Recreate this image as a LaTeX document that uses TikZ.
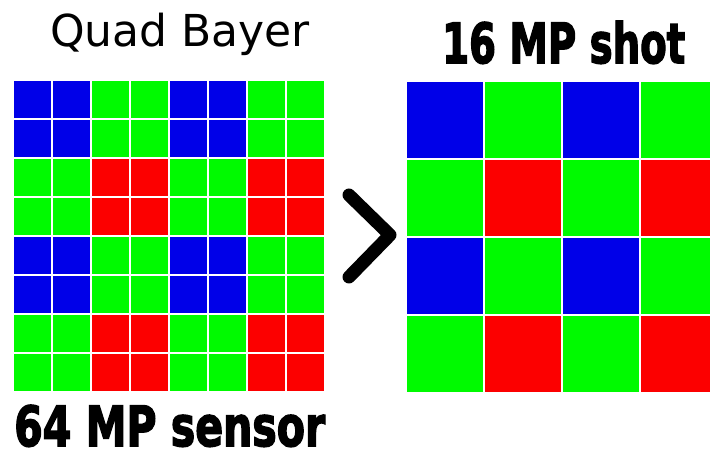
\documentclass[tikz,border=0pt]{standalone}
\usepackage{fontspec}
\setmainfont{DejaVu Sans}
\newfontfamily\thinsans{DejaVu Sans}
\newfontfamily\heavysans{DejaVu Sans Bold}[FakeBold=3]
\definecolor{cblue}{RGB}{0,0,232}
\definecolor{cgreen}{RGB}{0,250,0}
\definecolor{cred}{RGB}{252,0,0}
\begin{document}
\begin{tikzpicture}[x=1pt,y=-1pt,
  titlelight/.style={inner sep=0pt, font=\thinsans\fontsize{44}{44}\selectfont, anchor=base},
  titleheavy/.style={inner sep=0pt, anchor=base west},
  chevron/.style={line width=13pt, line cap=round, line join=round}]
\fill[white] (0,0) rectangle (710,454);
\useasboundingbox (0,0) rectangle (710,454);
% left 8x8 quad bayer grid
\foreach \r in {0,...,7}{
  \foreach \c in {0,...,7}{
    \pgfmathtruncatemacro{\br}{mod(floor(\r/2),2)}
    \pgfmathtruncatemacro{\bc}{mod(floor(\c/2),2)}
    \ifnum\br=0
      \ifnum\bc=0 \def\col{cblue}\else \def\col{cgreen}\fi
    \else
      \ifnum\bc=0 \def\col{cgreen}\else \def\col{cred}\fi
    \fi
    \fill[\col] ({14+39*\c},{81+39*\r}) rectangle ++(37,37);
  }
}
% right 4x4 bayer grid
\begin{scope}
\clip (0,0) rectangle (710,454);
\foreach \r in {0,...,3}{
  \foreach \c in {0,...,3}{
    \pgfmathtruncatemacro{\br}{mod(\r,2)}
    \pgfmathtruncatemacro{\bc}{mod(\c,2)}
    \ifnum\br=0
      \ifnum\bc=0 \def\col{cblue}\else \def\col{cgreen}\fi
    \else
      \ifnum\bc=0 \def\col{cgreen}\else \def\col{cred}\fi
    \fi
    \fill[\col] ({407+78*\c},{82+78*\r}) rectangle ++(76,76);
  }
}
\end{scope}
% titles
\node[titlelight] (quad) at (180,47) {Quad Bayer};
\node[titleheavy] (shot) at (442,63) {\resizebox{243pt}{42pt}{\heavysans 16 MP shot}};
\node[titleheavy] (sensor) at (14,446) {\resizebox{311pt}{41pt}{\heavysans 64 MP sensor}};
% chevron
\coordinate (ctop) at (349,195);
\coordinate (ctip) at (390,235);
\coordinate (cbot) at (349,277);
\draw[chevron] (ctop) -- (ctip) -- (cbot);
\end{tikzpicture}
\end{document}
